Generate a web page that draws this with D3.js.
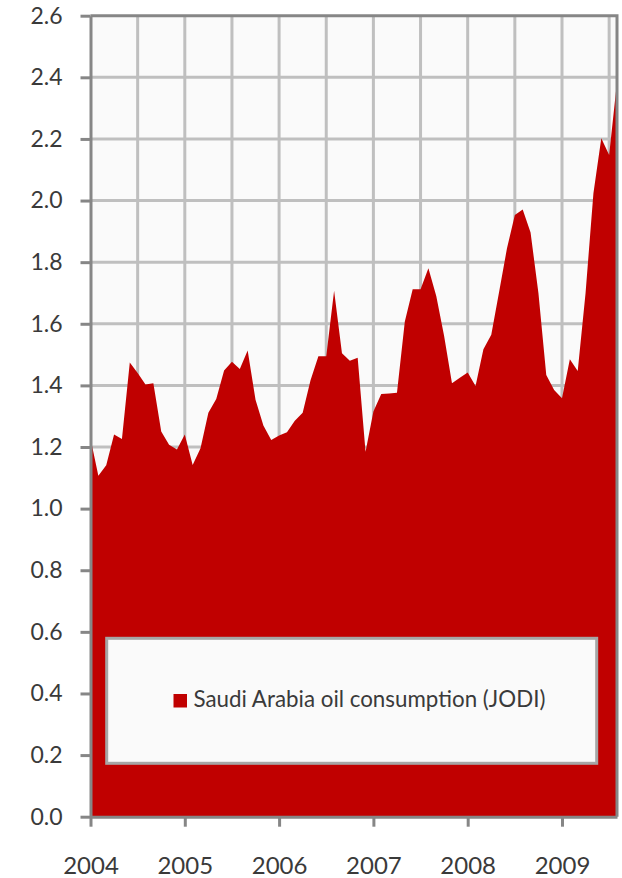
<!DOCTYPE html>
<html>
<head>
<script src="https://d3js.org/d3.v7.min.js"></script>
<style>
body { margin: 0; background: #fff; }
text { font-family: Lato, "Open Sans", sans-serif; fill: #3a3a3a; }
</style>
</head>
<body>
<script>
// monthly values, Jan 2004 .. Aug 2009
var consumption = [
  1.228, 1.107, 1.141, 1.241, 1.226, 1.474, 1.440, 1.403, 1.407, 1.250, 1.207, 1.192,
  1.241, 1.142, 1.196, 1.311, 1.356, 1.448, 1.477, 1.453, 1.513, 1.353, 1.270, 1.223,
  1.237, 1.248, 1.285, 1.311, 1.417, 1.495, 1.495, 1.707, 1.504, 1.480, 1.490, 1.185,
  1.315, 1.372, 1.374, 1.376, 1.607, 1.712, 1.712, 1.780, 1.690, 1.560, 1.407, 1.425,
  1.442, 1.398, 1.517, 1.564, 1.704, 1.845, 1.953, 1.971, 1.896, 1.700, 1.434, 1.385,
  1.358, 1.485, 1.447, 1.700, 2.024, 2.202, 2.148, 2.386
];
var years = ["2004", "2005", "2006", "2007", "2008", "2009"];
var yTicks = [0.0, 0.2, 0.4, 0.6, 0.8, 1.0, 1.2, 1.4, 1.6, 1.8, 2.0, 2.2, 2.4, 2.6];
var seriesName = "Saudi Arabia oil consumption (JODI)";

var width = 622, height = 878;
var plotLeft = 90.5, plotRight = 617, plotTop = 15.7, plotBottom = 816.7;
var axisColor = "#868686", gridColor = "#bfbfbf", red = "#c00000";

var svg = d3.select("body").append("svg")
  .attr("width", width)
  .attr("height", height);

var x = d3.scaleLinear().domain([0, consumption.length - 1]).range([plotLeft, plotRight]);
var y = d3.scaleLinear().domain([0, 2.6]).range([plotBottom, plotTop]);

// plot background
svg.append("rect")
  .attr("x", plotLeft).attr("y", plotTop)
  .attr("width", plotRight - plotLeft).attr("height", plotBottom - plotTop)
  .attr("fill", "#fafafa");

// gridlines, every 0.2 and every 6 months
svg.append("g")
  .selectAll("line")
  .data(yTicks.slice(1, -1))
  .enter().append("line")
  .attr("x1", plotLeft).attr("x2", plotRight)
  .attr("y1", d => y(d)).attr("y2", d => y(d))
  .attr("stroke", gridColor).attr("stroke-width", 3);

svg.append("g")
  .selectAll("line")
  .data(d3.range(6, consumption.length, 6))
  .enter().append("line")
  .attr("x1", d => x(d)).attr("x2", d => x(d))
  .attr("y1", plotTop).attr("y2", plotBottom)
  .attr("stroke", gridColor).attr("stroke-width", 3);

// the series
var area = d3.area()
  .x((d, i) => x(i))
  .y0(y(0))
  .y1(d => y(d));

svg.append("path")
  .datum(consumption)
  .attr("d", area)
  .attr("fill", red);

// plot border (top, right)
svg.append("path")
  .attr("d", "M" + plotLeft + "," + plotTop + "H" + plotRight + "V" + plotBottom)
  .attr("fill", "none")
  .attr("stroke", axisColor).attr("stroke-width", 3);

// axes
var yAxis = d3.axisLeft(y)
  .tickValues(yTicks)
  .tickFormat(d3.format(".1f"))
  .tickSize(10)
  .tickSizeOuter(0)
  .tickPadding(18);

var gy = svg.append("g")
  .attr("transform", "translate(" + plotLeft + ",0)")
  .call(yAxis);

var xAxis = d3.axisBottom(x)
  .tickValues(years.map((d, i) => i * 12))
  .tickFormat((d, i) => years[i])
  .tickSize(10)
  .tickSizeOuter(0)
  .tickPadding(30);

var gx = svg.append("g")
  .attr("transform", "translate(0," + plotBottom + ")")
  .call(xAxis);

[gx, gy].forEach(function(g) {
  g.select(".domain").attr("stroke", axisColor).attr("stroke-width", 3);
  g.selectAll(".tick line").attr("stroke", axisColor).attr("stroke-width", 3);
  g.selectAll(".tick text").attr("fill", "#3a3a3a");
});
gy.selectAll(".tick text").style("font-size", "23px");
gx.selectAll(".tick text").style("font-size", "24px");

// legend
var legend = svg.append("g");
legend.append("rect")
  .attr("x", 106.7).attr("y", 638.3)
  .attr("width", 490).attr("height", 125)
  .attr("fill", "#fafafa")
  .attr("stroke", "#a6a6a6").attr("stroke-width", 3);

legend.append("rect")
  .attr("x", 173.5).attr("y", 694)
  .attr("width", 13.5).attr("height", 13.5)
  .attr("fill", red);

var label = legend.append("text")
  .attr("x", 193.5).attr("y", 707)
  .style("font-size", "21px")
  .text(seriesName);

// fit the label to the width it has in the original chart
var w = label.node().getComputedTextLength();
label.style("font-size", (21 * 352 / w).toFixed(2) + "px");
</script>
</body>
</html>
